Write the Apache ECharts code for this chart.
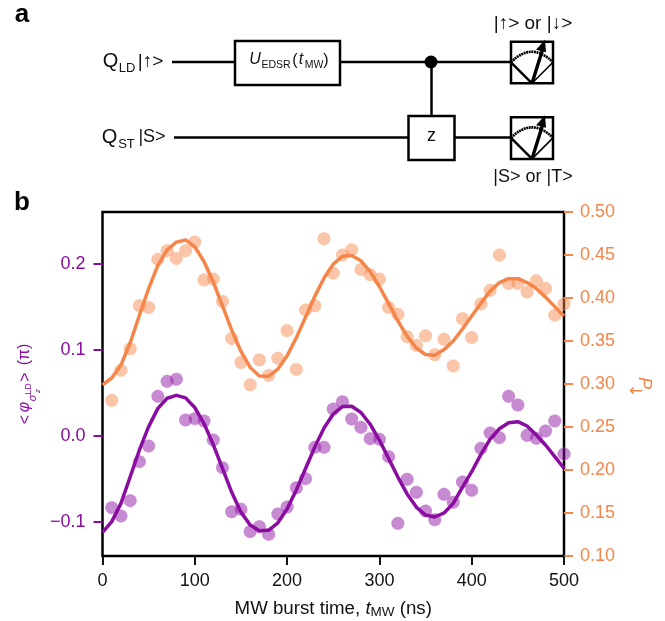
<!DOCTYPE html>
<html><head><meta charset="utf-8">
<style>html,body{margin:0;padding:0;background:#fff}#c{width:665px;height:621px}</style>
<script src="https://cdn.jsdelivr.net/npm/echarts@6/dist/echarts.min.js"></script>
</head><body><div id="c"></div>
<script>
const pointTimes=[10,20,30,40,50,60,70,80,90,100,110,120,130,140,150,160,170,180,190,200,210,220,230,240,250,260,270,280,290,300,310,320,330,340,350,360,370,380,390,400,410,420,430,440,450,460,470,480,490,500];
const orangePoints=[.281,.316,.341,.391,.389,.445,.455,.446,.455,.465,.421,.422,.396,.353,.325,.299,.328,.310,.330,.362,.317,.386,.391,.469,.429,.450,.456,.433,.427,.422,.389,.381,.355,.345,.356,.334,.352,.321,.376,.354,.393,.409,.450,.417,.417,.407,.420,.411,.380,.393];
const purplePoints=[-.0838,-.0935,-.0757,-.0303,-.0121,.0457,.0631,.0655,.0181,.0197,.017,-.0051,-.0373,-.0885,-.0857,-.1117,-.1059,-.1148,-.0912,-.083,-.0606,-.0501,-.0136,-.0136,.0309,.0394,.0193,.0096,-.0036,-.0043,-.0245,-.102,-.0508,-.0659,-.0877,-.0978,-.0683,-.0776,-.054,-.0636,-.0148,.003,-.0024,.0457,.0356,.0003,-.0031,.0053,.017,-.0214];
const curveTimes=[0,10,20,30,40,50,60,70,80,90,100,110,120,130,140,150,160,170,180,190,200,210,220,230,240,250,260,270,280,290,300,310,320,330,340,350,360,370,380,390,400,410,420,430,440,450,460,470,480,490,500];
const orangeCurve=[.299,.307,.322,.348,.380,.411,.438,.456,.465,.4675,.4595,.4425,.4186,.3908,.3627,.3378,.3192,.3093,.3091,.3173,.3328,.3538,.3778,.4019,.4233,.4394,.4485,.4494,.4432,.4306,.4134,.3935,.3734,.3555,.3419,.3343,.3334,.340,.350,.364,.379,.394,.408,.418,.4225,.4225,.418,.411,.401,.390,.379];
const purpleCurve=[-.1125,-.1,-.0788,-.0478,-.0167,.0104,.0317,.0434,.0468,.0439,.0326,.0140,-.0105,-.038,-.066,-.089,-.104,-.1105,-.1102,-.1015,-.0852,-.0632,-.0382,-.0132,.0088,.0251,.0338,.0341,.0269,.0132,-.0053,-.0266,-.0482,-.0678,-.0831,-.0924,-.0946,-.09,-.0788,-.060,-.042,-.0218,-.0042,.008,.015,.0162,.0112,.0007,-.0109,-.0245,-.038];
const leftTicks=[-0.1,0,0.1,0.2];
const pairs=(x,y)=>x.map((t,i)=>[t,y[i]]);

const PURPLE='#8a0ca0',ORANGE='#f58549',F='"Liberation Sans",Arial,sans-serif';
const txt=(text,x,y,o={})=>({type:'text',x,y,rotation:o.rot||0,silent:true,z:20,style:Object.assign({text,fontFamily:F,fontSize:18,fill:'#111',align:'center',verticalAlign:'middle'},o.s||{})});
const ln=(x1,y1,x2,y2,w=2.5)=>({type:'line',silent:true,z:10,shape:{x1,y1,x2,y2},style:{stroke:'#000',lineWidth:w}});
const rect=(x,y,w,h)=>({type:'rect',silent:true,z:10,shape:{x,y,width:w,height:h},style:{fill:'#fff',stroke:'#000',lineWidth:2.5}});
function meter(y0){return [
  rect(511,y0,42,41.6),
  {type:'bezierCurve',silent:true,z:11,shape:{x1:511,y1:y0+20.6,x2:553,y2:y0+20.6,cpx1:532,cpy1:y0-0.5},style:{fill:'none',stroke:'#000',lineWidth:2.6,lineDash:[2,0.6]}},
  ln(511,y0+20.6,532,y0+41.6,2.4),ln(553,y0+20.6,532,y0+41.6,1.6),ln(532,y0+41.6,542.5,y0+8,3.4),
  {type:'polygon',silent:true,z:12,shape:{points:[[545,y0-2],[536,y0+8],[546,y0+10.5]]},style:{fill:'#000'}}
];}
const graphics=[
  ln(172,62,235,62),ln(340,62,512,62),ln(431.5,62,431.5,116),ln(174,137.5,408,137.5),ln(454,137.5,512,137.5),
  rect(235,41,105,44),rect(408.5,116,46,44),
  {type:'circle',silent:true,z:12,shape:{cx:431,cy:62,r:6.5},style:{fill:'#000'}},
  ...meter(41.7),...meter(117.3),
  txt('a',22,15,{s:{fontSize:26,fontWeight:'bold',fill:'#000'}}),
  txt('b',22,203,{s:{fontSize:26,fontWeight:'bold',fill:'#000'}}),
  txt('Q',110.5,61.5,{s:{fontSize:20}}),txt('LD',127,68,{s:{fontSize:13}}),txt('|↑>',150.5,61.5,{s:{fontSize:19}}),
  txt('Q',109.5,137,{s:{fontSize:20}}),txt('ST',126.5,144.5,{s:{fontSize:13}}),txt('|S>',152,137),
  txt('U',255,60,{s:{fontStyle:'italic',fontSize:16}}),txt('EDSR',276,65,{s:{fontSize:10.5}}),
  txt('(',295,61,{s:{fontSize:16}}),txt('t',301,60,{s:{fontStyle:'italic',fontSize:16}}),txt('MW',314,65,{s:{fontSize:10.5}}),txt(')',326,61,{s:{fontSize:16}}),
  txt('z',431.5,136,{s:{fontSize:18}}),
  txt('|↑> or |↓>',533,24,{s:{fontSize:19}}),
  txt('|S> or |T>',533,177,{s:{fontSize:18}}),
  txt('<',26,419.5,{rot:Math.PI/2,s:{fontSize:16,fill:PURPLE}}),
  txt('φ',25,407,{rot:Math.PI/2,s:{fontSize:16,fontStyle:'italic',fill:PURPLE}}),
  txt('σ',33,398,{rot:Math.PI/2,s:{fontSize:11,fontStyle:'italic',fill:PURPLE}}),
  txt('z',38,391,{rot:Math.PI/2,s:{fontSize:8,fontStyle:'italic',fill:PURPLE}}),
  txt('LD',28.5,389,{rot:Math.PI/2,s:{fontSize:9,fill:PURPLE}}),
  txt('>',26,377,{rot:Math.PI/2,s:{fontSize:16,fill:PURPLE}}),
  txt('(π)',25,354.5,{rot:Math.PI/2,s:{fontSize:16,fill:PURPLE}}),
  txt('P',644,383,{rot:-Math.PI/2,s:{fontSize:18,fontStyle:'italic',fill:ORANGE}}),
  txt('←',636,391.5,{s:{fontSize:17,fontFamily:'"DejaVu Sans"',fill:ORANGE}})
];
const chart=echarts.init(document.getElementById('c'),null,{renderer:'canvas'});
const dot=(c,bc)=>({color:c,borderColor:bc,borderWidth:1});
chart.setOption({
  animation:false,
  grid:{left:102.5,right:101,top:212,height:344,outerBoundsMode:'none',show:true,borderColor:'#000',borderWidth:2.5,backgroundColor:'transparent'},
  xAxis:{type:'value',min:0,max:500,interval:100,splitLine:{show:false},
    axisLine:{show:false,onZero:false},
    axisTick:{length:9,lineStyle:{color:'#111',width:2}},
    axisLabel:{fontFamily:F,fontSize:18,color:'#111',margin:16},
    name:'{a|MW burst time, }{i|t}{s|MW}{a| (ns)}',nameLocation:'middle',nameGap:43,
    nameTextStyle:{rich:{a:{fontFamily:F,fontSize:18.7,color:'#111'},i:{fontFamily:F,fontSize:18.7,color:'#111',fontStyle:'italic'},s:{fontFamily:F,fontSize:13.5,color:'#111',verticalAlign:'bottom',padding:[6,0,0,0]}}}},
  yAxis:[
    {type:'value',min:-0.14,max:0.26,splitLine:{show:false},axisLine:{show:false,onZero:false},
     axisTick:{show:true,length:9,lineStyle:{color:PURPLE,width:2},customValues:leftTicks},
     axisLabel:{fontFamily:F,fontSize:18,color:PURPLE,margin:17,customValues:leftTicks,formatter:v=>v.toFixed(1).replace('-','−')}},
    {type:'value',position:'right',min:0.1,max:0.5,interval:0.05,splitLine:{show:false},axisLine:{show:false,onZero:false},
     axisTick:{show:true,length:9,lineStyle:{color:ORANGE,width:2}},
     axisLabel:{fontFamily:F,fontSize:18,color:ORANGE,margin:16,formatter:v=>v.toFixed(2)}}
  ],
  series:[
    {type:'scatter',yAxisIndex:1,data:pairs(pointTimes,orangePoints),symbolSize:12.5,itemStyle:dot('rgba(245,133,73,.6)','rgba(250,180,140,.6)'),clip:true,z:2},
    {type:'line',yAxisIndex:1,data:pairs(curveTimes,orangeCurve),smooth:false,showSymbol:false,lineStyle:{color:ORANGE,width:3.5,join:'round'},z:3},
    {type:'scatter',yAxisIndex:0,data:pairs(pointTimes,purplePoints),symbolSize:12.5,itemStyle:dot('rgba(138,12,160,.6)','rgba(190,110,205,.6)'),clip:true,z:4},
    {type:'line',yAxisIndex:0,data:pairs(curveTimes,purpleCurve),smooth:false,showSymbol:false,lineStyle:{color:PURPLE,width:3.5,join:'round'},z:5}
  ],
  graphic:graphics
});
</script></body></html>
